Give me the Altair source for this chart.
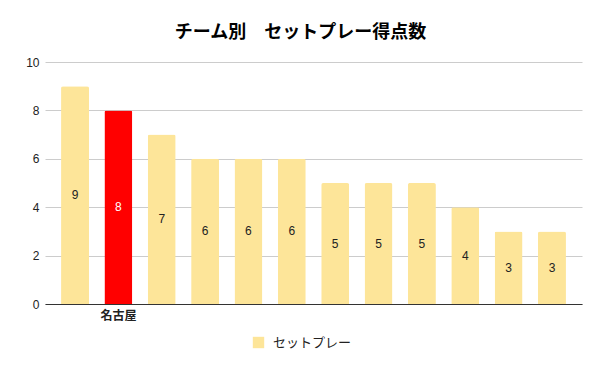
import altair as alt
import pandas as pd

idx = list(range(12))
teams = ["", "名古屋", "", "", "", "", "", "", "", "", "", ""]
values = [9, 8, 7, 6, 6, 6, 5, 5, 5, 4, 3, 3]
series = "セットプレー"
highlight = "名古屋"

df = pd.DataFrame({"idx": idx, "team": teams, "value": values, "series": [series] * 12})
df["half"] = df["value"] / 2

label_js = "[" + ",".join('"%s"' % t for t in teams) + "]"

font_latin = "Liberation Sans, Arial, Noto Sans CJK JP"
font_jp = "Noto Sans CJK JP"

x = alt.X("idx:O",
          scale=alt.Scale(paddingInner=0.355, paddingOuter=0.37),
          axis=alt.Axis(title=None, labelAngle=0, ticks=False, domainColor="#333333",
                        labelExpr=label_js + "[datum.value]", labelFont=font_jp,
                        labelFontWeight="bold", labelFontSize=12, labelColor="#222222",
                        labelPadding=6))

bars = alt.Chart(df).mark_bar(cornerRadiusTopLeft=2, cornerRadiusTopRight=2).encode(
    x=x,
    y=alt.Y("value:Q", scale=alt.Scale(domain=[0, 10]),
            axis=alt.Axis(title=None, values=[0, 2, 4, 6, 8, 10], ticks=False, domain=False,
                          gridColor="#cccccc", labelFont=font_latin, labelFontSize=12,
                          labelColor="#222222", labelPadding=6)),
    color=alt.condition(alt.datum.team == highlight, alt.value("#ff0000"),
                        alt.Color("series:N", scale=alt.Scale(range=["#fde599"]),
                                  legend=alt.Legend(title=None, orient="none", legendX=207,
                                                    legendY=274, symbolType="square",
                                                    symbolSize=130, symbolStrokeWidth=0,
                                                    labelFont=font_jp, labelFontSize=13,
                                                    labelColor="#222222", labelOffset=8))),
)

text = alt.Chart(df).mark_text(baseline="middle", font=font_latin, fontSize=12).encode(
    x=alt.X("idx:O"),
    y=alt.Y("half:Q"),
    text=alt.Text("value:Q"),
    color=alt.condition(alt.datum.team == highlight, alt.value("#ffffff"), alt.value("#222222")),
)

chart = (bars + text).properties(
    width=537, height=242,
    title=alt.TitleParams("チーム別　セットプレー得点数", font=font_jp, fontSize=18,
                          fontWeight="bold", color="#000000", anchor="middle", offset=14,
                          dx=-13),
    padding={"left": 37, "top": 54, "right": 10, "bottom": 55},
    autosize=alt.AutoSizeParams(type="none"),
).configure_view(stroke=None).configure_axis(labelFontWeight="normal")

chart.save("out.html", embed_options={"renderer": "svg", "actions": False})
